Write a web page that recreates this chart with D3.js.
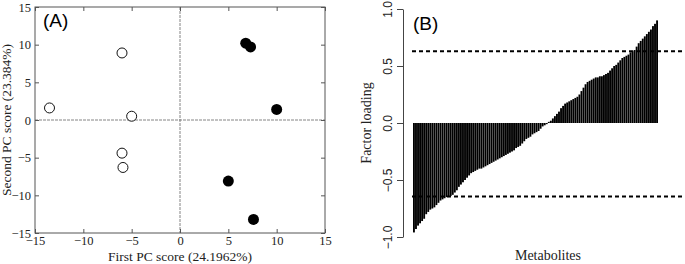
<!DOCTYPE html>
<html>
  <head>
    <meta charset="utf-8">
    <script src="https://d3js.org/d3.v7.min.js"></script>
    <style>
      body { margin: 0; background: #fff; }
      svg { display: block; }
    </style>
  </head>
  <body>
    <div id="chart"></div>
    <script>
      // Panel A: PC scores
      const openPts = [[-13.5, 1.6], [-6.0, 8.9], [-5.0, 0.5], [-6.0, -4.4], [-5.9, -6.3]];
      const filledPts = [[6.8, 10.2], [7.3, 9.7], [10.0, 1.4], [5.0, -8.1], [7.6, -13.2]];
      const pcTicks = [-15, -10, -5, 0, 5, 10, 15];

      // Panel B: sorted factor loadings
      const loadings = [
        -0.96, -0.93, -0.90, -0.88, -0.86, -0.84, -0.80, -0.78, -0.76, -0.75,
        -0.74, -0.72, -0.70, -0.68, -0.67, -0.66, -0.65, -0.65, -0.64, -0.63,
        -0.61, -0.59, -0.56, -0.54, -0.52, -0.50, -0.48, -0.46, -0.44, -0.43,
        -0.42, -0.41, -0.40, -0.40, -0.39, -0.38, -0.37, -0.36, -0.35, -0.34,
        -0.33, -0.32, -0.31, -0.30, -0.29, -0.28, -0.27, -0.26, -0.25, -0.24,
        -0.22, -0.21, -0.20, -0.18, -0.16, -0.14, -0.13, -0.12, -0.10, -0.09,
        -0.08, -0.07, -0.05, -0.03, -0.02, -0.01, 0.01, 0.02, 0.04, 0.06,
        0.08, 0.10, 0.13, 0.15, 0.17, 0.18, 0.19, 0.20, 0.21, 0.22,
        0.23, 0.25, 0.28, 0.31, 0.34, 0.36, 0.37, 0.38, 0.39, 0.40,
        0.40, 0.41, 0.41, 0.42, 0.43, 0.44, 0.46, 0.48, 0.50, 0.51,
        0.53, 0.55, 0.57, 0.58, 0.59, 0.60, 0.62, 0.63, 0.64, 0.67,
        0.70, 0.72, 0.74, 0.76, 0.78, 0.80, 0.82, 0.85, 0.87, 0.90
      ];
      const loadTicks = [-1.0, -0.5, 0.0, 0.5, 1.0];
      const cutoff = 0.63;

      const svg = d3.select("#chart").append("svg")
        .attr("width", 685).attr("height", 264);

      // ---------- Panel A ----------
      const x = d3.scaleLinear().domain([-15, 15]).range([35, 325]);
      const y = d3.scaleLinear().domain([-15, 15]).range([233, 7]);
      const gA = svg.append("g");

      // box
      gA.append("rect")
        .attr("x", x(-15)).attr("y", y(15))
        .attr("width", x(15) - x(-15)).attr("height", y(-15) - y(15))
        .attr("fill", "none").attr("stroke", "#555").attr("stroke-width", 1);

      // zero lines
      gA.append("line")
        .attr("x1", x(0)).attr("x2", x(0)).attr("y1", y(15)).attr("y2", y(-15))
        .attr("stroke", "#666").attr("stroke-dasharray", "3,1").attr("stroke-width", 0.8);
      gA.append("line")
        .attr("x1", x(-15)).attr("x2", x(15)).attr("y1", y(0)).attr("y2", y(0))
        .attr("stroke", "#666").attr("stroke-dasharray", "3,1").attr("stroke-width", 0.8);

      const axStyle = g => {
        g.select(".domain").remove();
        g.selectAll(".tick line").attr("stroke", "#555");
        g.selectAll(".tick text").attr("font-family", "Liberation Serif").attr("font-size", 12.5).attr("fill", "#222");
      };

      gA.append("g").attr("transform", `translate(0,${y(-15)})`)
        .call(d3.axisBottom(x).tickValues(pcTicks).tickSizeInner(-4).tickPadding(3).tickSizeOuter(0))
        .call(axStyle);
      gA.append("g").attr("transform", `translate(${x(-15)},0)`)
        .call(d3.axisLeft(y).tickValues(pcTicks).tickSizeInner(-4).tickPadding(4).tickSizeOuter(0))
        .call(axStyle);
      gA.append("g").attr("transform", `translate(0,${y(15)})`)
        .call(d3.axisTop(x).tickValues(pcTicks).tickSizeInner(-4).tickFormat("").tickSizeOuter(0))
        .call(axStyle);
      gA.append("g").attr("transform", `translate(${x(15)},0)`)
        .call(d3.axisRight(y).tickValues(pcTicks).tickSizeInner(-4).tickFormat("").tickSizeOuter(0))
        .call(axStyle);

      gA.selectAll("circle.open").data(openPts).join("circle")
        .attr("class", "open")
        .attr("cx", d => x(d[0])).attr("cy", d => y(d[1])).attr("r", 5)
        .attr("fill", "#fff").attr("stroke", "#111").attr("stroke-width", 1);
      gA.selectAll("circle.filled").data(filledPts).join("circle")
        .attr("class", "filled")
        .attr("cx", d => x(d[0])).attr("cy", d => y(d[1])).attr("r", 5.5)
        .attr("fill", "#000");

      gA.append("text").attr("x", 43).attr("y", 27)
        .attr("font-family", "Liberation Sans").attr("font-size", 19).text("(A)");
      gA.append("text").attr("x", 180).attr("y", 261).attr("text-anchor", "middle")
        .attr("font-family", "Liberation Serif").attr("font-size", 13.5).attr("fill", "#222")
        .text("First PC score (24.1962%)");
      gA.append("text").attr("transform", `translate(11,${y(0)}) rotate(-90)`)
        .attr("text-anchor", "middle")
        .attr("font-family", "Liberation Serif").attr("font-size", 13.5).attr("fill", "#222")
        .text("Second PC score (23.384%)");

      // ---------- Panel B ----------
      const yb = d3.scaleLinear().domain([-1, 1]).range([237, 9]);
      const xb = d3.scaleBand().domain(loadings.map((d, i) => i)).range([413, 658]).paddingInner(0.08);
      const gB = svg.append("g");

      gB.append("g").attr("transform", "translate(403,0)")
        .call(d3.axisLeft(yb).tickValues(loadTicks).tickFormat(d3.format(".1f")).tickSize(6).tickPadding(4).tickSizeOuter(0))
        .call(g => {
          g.select(".domain").attr("stroke", "#444");
          g.selectAll(".tick line").attr("stroke", "#444");
          g.selectAll(".tick text")
            .attr("font-family", "Liberation Sans").attr("font-size", 12).attr("fill", "#222")
            .attr("transform", "rotate(-90)")
            .attr("text-anchor", "middle")
            .attr("x", 0).attr("y", -11).attr("dy", "0");
        });

      gB.selectAll("rect.bar").data(loadings).join("rect")
        .attr("class", "bar")
        .attr("x", (d, i) => xb(i))
        .attr("width", xb.bandwidth())
        .attr("y", d => yb(Math.max(0, d)))
        .attr("height", d => Math.abs(yb(d) - yb(0)))
        .attr("fill", "#000");

      [cutoff, -cutoff - 0.015].forEach(v => {
        gB.append("line")
          .attr("x1", 412).attr("x2", 685).attr("y1", yb(v)).attr("y2", yb(v))
          .attr("stroke", "#000").attr("stroke-width", 2).attr("stroke-dasharray", "4,3");
      });

      gB.append("text").attr("x", 413).attr("y", 30)
        .attr("font-family", "Liberation Sans").attr("font-size", 19).text("(B)");
      gB.append("text").attr("transform", `translate(371,${yb(0)}) rotate(-90)`)
        .attr("text-anchor", "middle")
        .attr("font-family", "Liberation Serif").attr("font-size", 14).attr("fill", "#222")
        .text("Factor loading");
      gB.append("text").attr("x", 548).attr("y", 260).attr("text-anchor", "middle")
        .attr("font-family", "Liberation Serif").attr("font-size", 14).attr("fill", "#222")
        .text("Metabolites");
    </script>
  </body>
</html>
